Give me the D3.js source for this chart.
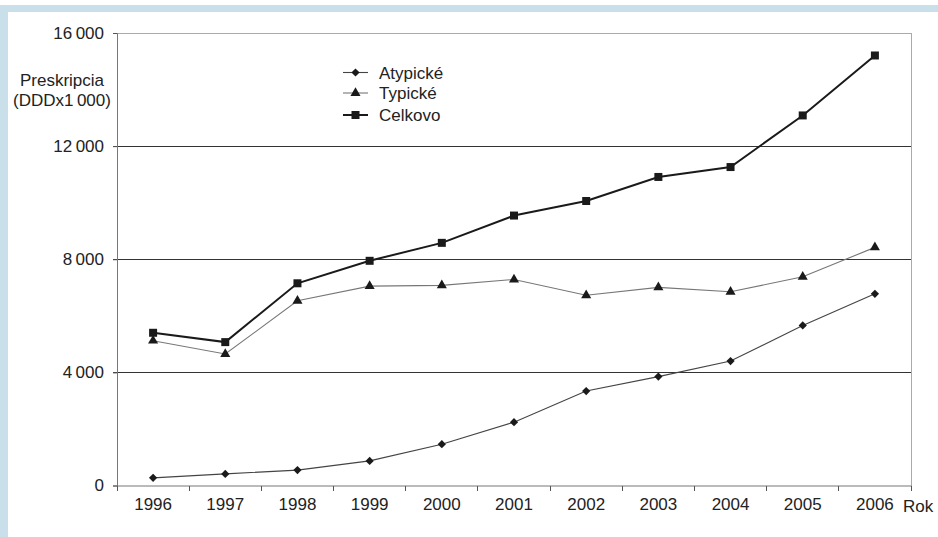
<!DOCTYPE html>
<html><head><meta charset="utf-8">
<script src="https://cdn.jsdelivr.net/npm/d3@7"></script>
<style>
html,body{margin:0;padding:0;background:#fff;}
svg{display:block;font-family:"Liberation Sans",Arial,Helvetica,sans-serif;}
</style></head>
<body>
<svg id="c" width="938" height="537"></svg>
<script>
const years = ["1996","1997","1998","1999","2000","2001","2002","2003","2004","2005","2006"];
const atypicke = [270, 410, 545, 870, 1460, 2240, 3340, 3850, 4400, 5660, 6780];
const typicke  = [5120, 4650, 6530, 7050, 7075, 7285, 6725, 7005, 6850, 7380, 8420];
const celkovo  = [5400, 5070, 7150, 7945, 8580, 9545, 10060, 10910, 11260, 13085, 15205];
const yTicks = [0, 4000, 8000, 12000, 16000];
const seriesNames = ["Atypické", "Typické", "Celkovo"];
const yLabel = ["Preskripcia", "(DDDx1\u2009000)"];
const xLabel = "Rok";

const FS = 17;
const svg = d3.select("#c");
// light blue frame
svg.append("rect").attr("x",0).attr("y",5).attr("width",938).attr("height",7).attr("fill","#c9dfe9");
svg.append("rect").attr("x",0).attr("y",5).attr("width",8).attr("height",532).attr("fill","#c9dfe9");

const L=117, R=911, T=33, B=485.5;
const x = d3.scaleBand().domain(years).range([L,R]);
const y = d3.scaleLinear().domain([0,16000]).range([B,T]);
const fmt = v => v>=1000 ? d3.format("d")(Math.floor(v/1000)) + "\u2009000" : String(v);

// gridlines
const g = svg.append("g");
yTicks.forEach(t=>{
  if(t===0) return;
  g.append("line").attr("x1",L-4).attr("x2",R).attr("y1",y(t)).attr("y2",y(t))
    .attr("stroke", t===16000 ? "#aaa" : "#333").attr("stroke-width",1).attr("shape-rendering","crispEdges");
});
// right frame
g.append("line").attr("x1",R).attr("x2",R).attr("y1",T).attr("y2",B).attr("stroke","#aaa").attr("shape-rendering","crispEdges");

// y axis
const yAxis = svg.append("g").attr("transform",`translate(${L},0)`)
  .call(d3.axisLeft(y).tickValues(yTicks).tickSize(4).tickPadding(9).tickFormat(fmt));
yAxis.select(".domain").attr("stroke","#777");
yAxis.selectAll(".tick line").attr("stroke","#555");
yAxis.selectAll("text").attr("font-size",FS).attr("fill","#222").attr("font-family","Liberation Sans, Arial, sans-serif");

// x axis
const xAxis = svg.append("g").attr("transform",`translate(0,${B})`)
  .call(d3.axisBottom(x).tickSize(0).tickPadding(12));
xAxis.select(".domain").attr("stroke","#777");
xAxis.selectAll("text").attr("font-size",FS).attr("fill","#222").attr("font-family","Liberation Sans, Arial, sans-serif");
// boundary ticks
const bounds = years.map(d=>x(d)).concat([R]);
xAxis.selectAll(".bt").data(bounds).enter().append("line")
  .attr("x1",d=>d).attr("x2",d=>d).attr("y1",0).attr("y2",5).attr("stroke","#555").attr("shape-rendering","crispEdges");

svg.append("text").attr("x",903).attr("y",512).attr("font-size",FS).attr("fill","#222").text(xLabel);

// y label
svg.append("text").attr("x",62).attr("y",86).attr("text-anchor","middle").attr("font-size",FS).attr("fill","#222").text(yLabel[0]);
svg.append("text").attr("x",62).attr("y",106).attr("text-anchor","middle").attr("font-size",FS).attr("fill","#222").text(yLabel[1]);

const cx = d => x(d) + x.bandwidth()/2;
const series = [
  {name:seriesNames[0], vals:atypicke, stroke:"#444", sw:1.1, sym:d3.symbolSquare, size:34, rot:45},
  {name:seriesNames[1], vals:typicke, stroke:"#777", sw:1.1, sym:d3.symbolTriangle, size:44, rot:0},
  {name:seriesNames[2], vals:celkovo, stroke:"#1a1a1a", sw:2, sym:d3.symbolSquare, size:64, rot:0}
];
const line = d3.line().x(d=>cx(d[0])).y(d=>y(d[1]));
series.forEach(s=>{
  const pts = years.map((d,i)=>[d,s.vals[i]]);
  svg.append("path").datum(pts).attr("d",line).attr("fill","none").attr("stroke",s.stroke).attr("stroke-width",s.sw);
  svg.append("g").selectAll("path").data(pts).enter().append("path")
    .attr("d", d3.symbol().type(s.sym).size(s.size))
    .attr("transform", d=>`translate(${cx(d[0])},${y(d[1])}) rotate(${s.rot})`)
    .attr("fill","#1a1a1a");
});

// legend
const lg = svg.append("g");
series.forEach((s,i)=>{
  const ly = [72.5, 93, 115][i];
  lg.append("line").attr("x1",343).attr("x2",368).attr("y1",ly).attr("y2",ly).attr("stroke",s.stroke).attr("stroke-width",s.sw);
  lg.append("path").attr("d",d3.symbol().type(s.sym).size(s.size)).attr("transform",`translate(355.5,${ly}) rotate(${s.rot})`).attr("fill","#1a1a1a");
  lg.append("text").attr("x",379).attr("y",ly+6).attr("font-size",FS).attr("fill","#222").text(s.name);
});
</script>
</body></html>
